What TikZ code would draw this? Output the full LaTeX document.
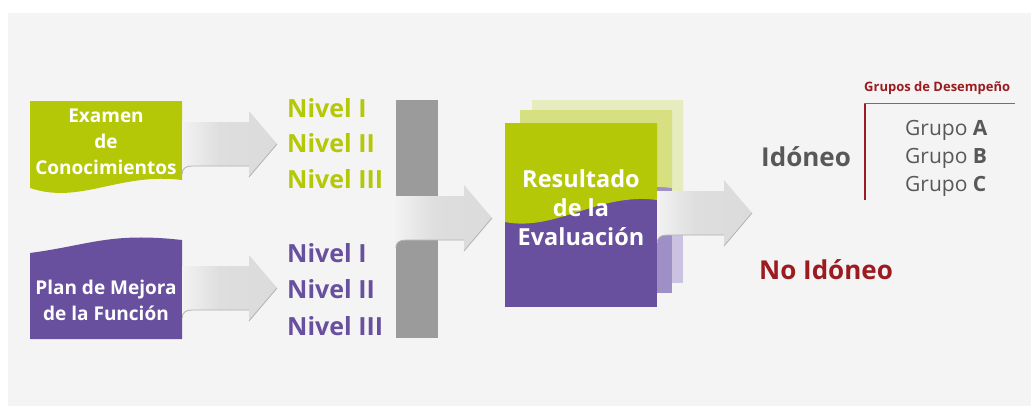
\documentclass[tikz,border=0pt]{standalone}
\usepackage{fontspec}
\setmainfont{Open Sans}
\usetikzlibrary{calc}

\definecolor{lime}{RGB}{181,200,8}
\definecolor{lilac}{RGB}{104,80,158}
\definecolor{limemid}{RGB}{214,224,128}
\definecolor{lilacmid}{RGB}{158,143,198}
\definecolor{limelight}{RGB}{230,236,190}
\definecolor{lilaclight}{RGB}{203,194,226}
\definecolor{darkred}{RGB}{155,27,32}
\definecolor{textgray}{RGB}{88,88,88}
\definecolor{bargray}{RGB}{155,155,155}
\definecolor{bgc}{RGB}{244,244,244}

\pgfdeclarehorizontalshading{ribbonshade}{100bp}{color(0bp)=(gray!45); color(4bp)=(gray!20); color(12bp)=(white); color(45bp)=(gray!26); color(100bp)=(gray!30)}

\newcommand\ribbon[2]{%
  \shade[shading=ribbonshade] let \p1=(#1), \p2=(#2) in
    (\x1,\y2+22pt) -- (\x2-28pt,\y2+22pt) -- (\x2-28pt,\y2+33pt) -- (\x2,\y2)
    -- (\x2-28pt,\y2-33pt) -- (\x2-28pt,\y2-22pt) -- (\x1+10pt,\y2-22pt)
    .. controls (\x1+3pt,\y2-22pt) and (\x1,\y2-25pt) .. (\x1,\y2-30pt) -- cycle;
  \draw[ribbonedge] let \p1=(#1), \p2=(#2) in
    (\x1,\y2-30pt) .. controls (\x1,\y2-25pt) and (\x1+3pt,\y2-22pt) .. (\x1+10pt,\y2-22pt)
    -- (\x2-28pt,\y2-22pt) (\x2-28pt,\y2-33pt) -- (\x2,\y2);
}

\begin{document}
\begin{tikzpicture}[
    x=1pt, y=-1pt,
    boxtext/.style={text=white, align=center, inner sep=0pt,
        minimum width=152pt, font=\bfseries\fontsize{19}{26}\selectfont},
    nivel/.style={anchor=west, inner sep=0pt,
        font=\bfseries\fontsize{25}{28}\selectfont},
    bar/.style={fill=bargray, minimum width=42pt, minimum height=238pt, inner sep=0pt},
    result/.style={text=white, align=center, inner sep=0pt,
        minimum width=152pt, font=\bfseries\fontsize{23.5}{29}\selectfont},
    verdict/.style={anchor=west, inner sep=0pt,
        font=\bfseries\fontsize{26}{30}\selectfont},
    grupo/.style={anchor=west, inner sep=0pt, text=textgray,
        font=\fontsize{21}{24}\selectfont},
    ribbonedge/.style={draw=gray!60, line width=0.8pt}
]
    \useasboundingbox (0,0) rectangle (1031,407);
    \fill[white] (0,0) rectangle (1031,407);
    \fill[bgc] (8,13) rectangle (1031,406);

    % inputs
    \fill[lime] (30,101) -- (182,101) -- (182,180)
        .. controls (120,172) and (80,205) .. (30,188) -- cycle;
    \node[boxtext] (examen) at (106,142) {Examen\\de\\Conocimientos};
    \fill[lilac] (30,253) .. controls (90,245) and (110,232) .. (182,240)
        -- (182,339) -- (30,339) -- cycle;
    \node[boxtext] (plan) at (106,300) {Plan de Mejora\\de la Función};

    \foreach \lbl [count=\i] in {I,II,III}
        \node[nivel, text=lime] (nivA\i) at (287,108+35.5*\i-35.5) {Nivel \lbl};
    \foreach \lbl [count=\i] in {I,II,III}
        \node[nivel, text=lilac] (nivB\i) at (287,253+36.5*\i-36.5) {Nivel \lbl};

    \node[bar] (bar) at (417,219) {};

    \coordinate (tipA) at (277,144);
    \coordinate (tipB) at (277,288);
    \coordinate (tipC) at (492,218);
    \ribbon{examen.east}{tipA}
    \ribbon{plan.east}{tipB}
    \ribbon{bar.west}{tipC}

    % stacked result sheets
    \fill[lilaclight] (532,100) rectangle (683,283);
    \fill[limelight] (532,100) -- (683,100) -- (683,200)
        .. controls (630,192) and (580,222) .. (532,212) -- cycle;
    \fill[lilacmid] (520,110) rectangle (672,293);
    \fill[limemid] (520,110) -- (672,110) -- (672,188)
        .. controls (615,180) and (570,220) .. (520,210) -- cycle;
    \fill[lilac] (505,123) rectangle (657,307);
    \fill[lime] (505,123) -- (657,123) -- (657,200)
        .. controls (600,192) and (555,232) .. (505,222) -- cycle;
    \node[result] (result) at (581,208) {Resultado\\de la\\Evaluación};

    \coordinate (tipD) at (752,213);
    \ribbon{result.east}{tipD}

    % outcomes
    \node[verdict, text=textgray] (idoneo) at (761,157) {Idóneo};
    \node[verdict, text=darkred] (noidoneo) at (759,270) {No Idóneo};
    \node[anchor=west, inner sep=0pt, text=darkred,
        font=\bfseries\fontsize{13}{15}\selectfont] (grupos) at (864,88) {Grupos de Desempeño};
    \draw[darkred, line width=2.2pt] (865,103) -- (865,200);
    \draw[darkred!75, line width=0.8pt] (864,103) -- (1015,103);
    \foreach \g [count=\i] in {A,B,C}
        \node[grupo] (grupo\g) at (905,102+28*\i) {Grupo \textbf{\g}};
\end{tikzpicture}
\end{document}
